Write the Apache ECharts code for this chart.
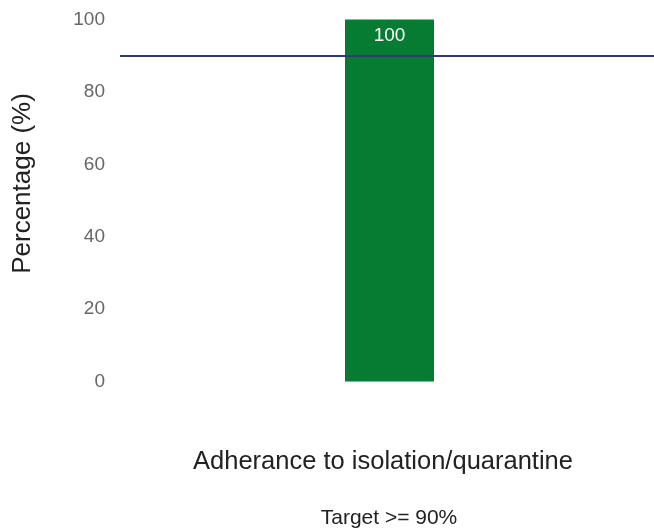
<!DOCTYPE html>
<html>
<head>
<meta charset="utf-8">
<script src="https://cdn.jsdelivr.net/npm/echarts@6/dist/echarts.min.js"></script>
<style>html,body{margin:0;padding:0;background:#fff}#c{width:654px;height:531px}</style>
</head>
<body>
<div id="c"></div>
<script>
var categories = ['Adherance to isolation/quarantine'];
var values = [100];
var targetValue = 90;
var yTicks = [0, 20, 40, 60, 80, 100];

var FONT = 'Liberation Sans, Arial, sans-serif';
var chart = echarts.init(document.getElementById('c'), null, {renderer: 'canvas'});
chart.setOption({
  animation: false,
  textStyle: {fontFamily: FONT},
  grid: {left: 120, right: -5, top: 19.5, bottom: 149.5, containLabel: false, outerBoundsMode: 'none'},
  title: {
    text: 'Target >= 90%',
    left: 384, top: 503, textAlign: 'center',
    textStyle: {fontSize: 21, fontWeight: 'normal', color: '#222', fontFamily: FONT}
  },
  xAxis: {
    type: 'category',
    data: categories,
    axisLine: {show: false},
    axisTick: {show: false},
    axisLabel: {margin: 67, fontSize: 25.5, color: '#222', fontFamily: FONT, padding: [0, 13, 0, 0]}
  },
  yAxis: {
    type: 'value',
    min: yTicks[0], max: yTicks[yTicks.length - 1], interval: 20,
    name: 'Percentage (%)',
    nameLocation: 'middle',
    nameGap: 84,
    nameRotate: 90,
    nameTextStyle: {fontSize: 26, color: '#222', fontFamily: FONT, padding: [0, 0, 0, 34]},
    splitLine: {show: false},
    axisLine: {show: false},
    axisTick: {show: false},
    axisLabel: {margin: 15, fontSize: 19, color: '#666', fontFamily: FONT}
  },
  series: [{
    type: 'bar',
    data: values,
    barWidth: 89,
    itemStyle: {color: '#067b32'},
    label: {show: true, position: 'insideTop', distance: 7, color: '#fff', fontSize: 19, fontFamily: FONT},
    markLine: {
      silent: true,
      symbol: 'none',
      label: {show: false},
      lineStyle: {color: '#2f3b6d', width: 2, type: 'solid'},
      data: [{yAxis: targetValue}]
    }
  }]
});
</script>
</body>
</html>
